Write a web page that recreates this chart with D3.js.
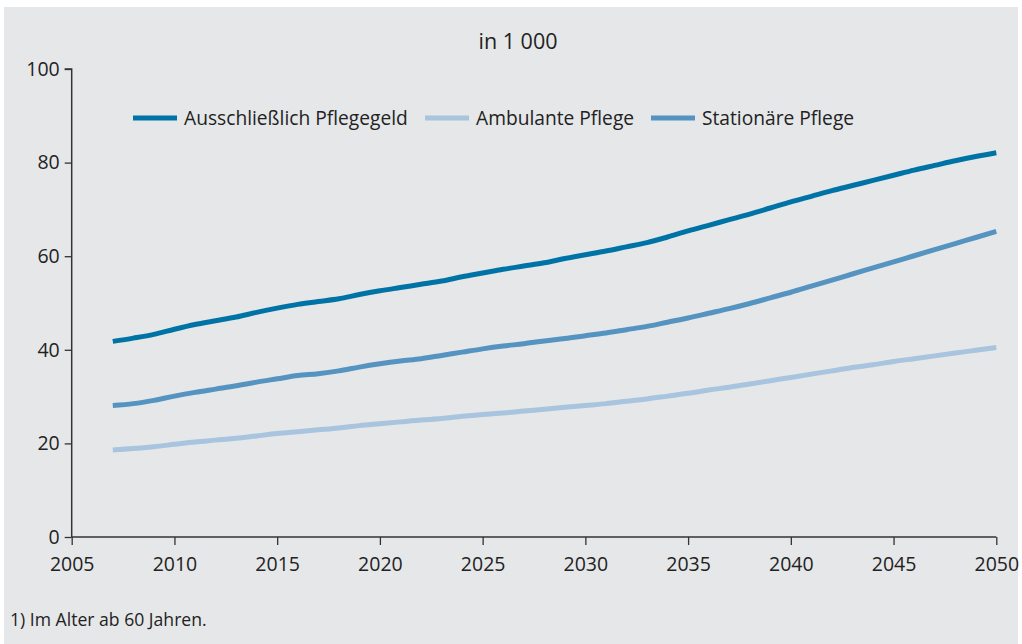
<!DOCTYPE html>
<html>
<head>
<meta charset="utf-8">
<script src="https://cdn.jsdelivr.net/npm/d3@7"></script>
<style>
  html, body { margin: 0; padding: 0; background: #ffffff; }
  svg { display: block; font-family: "Open Sans", "Noto Sans", sans-serif; }
</style>
</head>
<body>
<svg id="chart" width="1022" height="644"></svg>
<script>
const years = d3.range(2007, 2051);
const pflegegeld = [41.8,42.5,43.3,44.4,45.4,46.2,47.0,48.0,48.9,49.7,50.3,50.9,51.8,52.6,53.3,54.0,54.7,55.6,56.4,57.2,57.9,58.6,59.5,60.3,61.1,62.0,62.9,64.1,65.4,66.6,67.8,69.0,70.3,71.6,72.8,74.0,75.1,76.2,77.3,78.4,79.4,80.4,81.3,82.1];
const ambulant = [18.6,18.9,19.3,19.8,20.3,20.7,21.1,21.6,22.1,22.5,22.9,23.3,23.8,24.2,24.6,25.0,25.3,25.8,26.2,26.5,26.9,27.3,27.7,28.1,28.5,29.0,29.5,30.1,30.7,31.4,32.0,32.7,33.4,34.1,34.8,35.5,36.2,36.8,37.5,38.1,38.7,39.3,39.9,40.5];
const stationaer = [28.1,28.5,29.2,30.1,30.9,31.6,32.3,33.1,33.8,34.5,34.9,35.5,36.3,37.0,37.6,38.1,38.8,39.5,40.2,40.8,41.3,41.9,42.4,43.0,43.6,44.3,45.0,45.9,46.8,47.8,48.8,49.9,51.1,52.3,53.6,54.9,56.2,57.5,58.8,60.1,61.4,62.7,64.0,65.3];
const seriesNames = ["Ausschließlich Pflegegeld", "Ambulante Pflege", "Stationäre Pflege"];
const seriesColors = ["#0073a6", "#a8c4de", "#5593c0"];
const xTicks = [2005, 2010, 2015, 2020, 2025, 2030, 2035, 2040, 2045, 2050];
const yTicks = [0, 20, 40, 60, 80, 100];
const title = "in 1 000";
const footnote = "1) Im Alter ab 60 Jahren.";

const svg = d3.select("#chart");
const W = 1022, H = 644;

svg.append("rect").attr("x", 4).attr("y", 7).attr("width", 1014).attr("height", H - 7).attr("fill", "#e6e7e9");

const x = d3.scaleLinear().domain([2005, 2050]).range([71.7, 996.3]);
const y = d3.scaleLinear().domain([0, 100]).range([537, 69]);

svg.append("text").attr("x", 518).attr("y", 49).attr("text-anchor", "middle")
  .attr("font-size", 21.5).attr("fill", "#222").text(title);

const axisColor = "#333";
const gx = svg.append("g").attr("transform", `translate(0,${y(0)})`)
  .call(d3.axisBottom(x).tickValues(xTicks).tickFormat(d3.format("d")).tickSize(8).tickPadding(12));
const gy = svg.append("g").attr("transform", `translate(${x(2005)},0)`)
  .call(d3.axisLeft(y).tickValues(yTicks).tickSize(7).tickPadding(5));
[gx, gy].forEach(g => {
  g.select(".domain").attr("stroke", axisColor).attr("stroke-width", 1.5);
  g.selectAll(".tick line").attr("stroke", axisColor).attr("stroke-width", 1.3);
  g.selectAll(".tick text").attr("fill", "#222").attr("font-size", 19.5)
    .attr("font-family", "'Open Sans', 'Noto Sans', sans-serif");
});
gy.select(".domain").attr("d", `M-7,${y(100)}H0V${y(0)}`);
gx.select(".domain").attr("d", `M${x(2005)},0H${x(2050)}`);

const allSeries = [pflegegeld, ambulant, stationaer];
const line = d3.line().x((d, i) => x(years[i])).y(d => y(d)).curve(d3.curveMonotoneX);
allSeries.forEach((s, k) => {
  svg.append("path").datum(s).attr("d", line).attr("fill", "none")
    .attr("stroke", seriesColors[k]).attr("stroke-width", 5).attr("stroke-linejoin", "round");
});

const legendX = [133, 425, 651];
const legendY = 118;
seriesNames.forEach((n, k) => {
  const g = svg.append("g").attr("transform", `translate(${legendX[k]},${legendY})`);
  g.append("line").attr("x1", 0).attr("x2", 44).attr("y1", 0).attr("y2", 0)
    .attr("stroke", seriesColors[k]).attr("stroke-width", 5);
  g.append("text").attr("x", 51).attr("y", 7).attr("font-size", 19.2).attr("fill", "#222").text(n);
});

svg.append("text").attr("x", 10).attr("y", 626).attr("font-size", 17.6).attr("fill", "#222").text(footnote);
</script>
</body>
</html>
